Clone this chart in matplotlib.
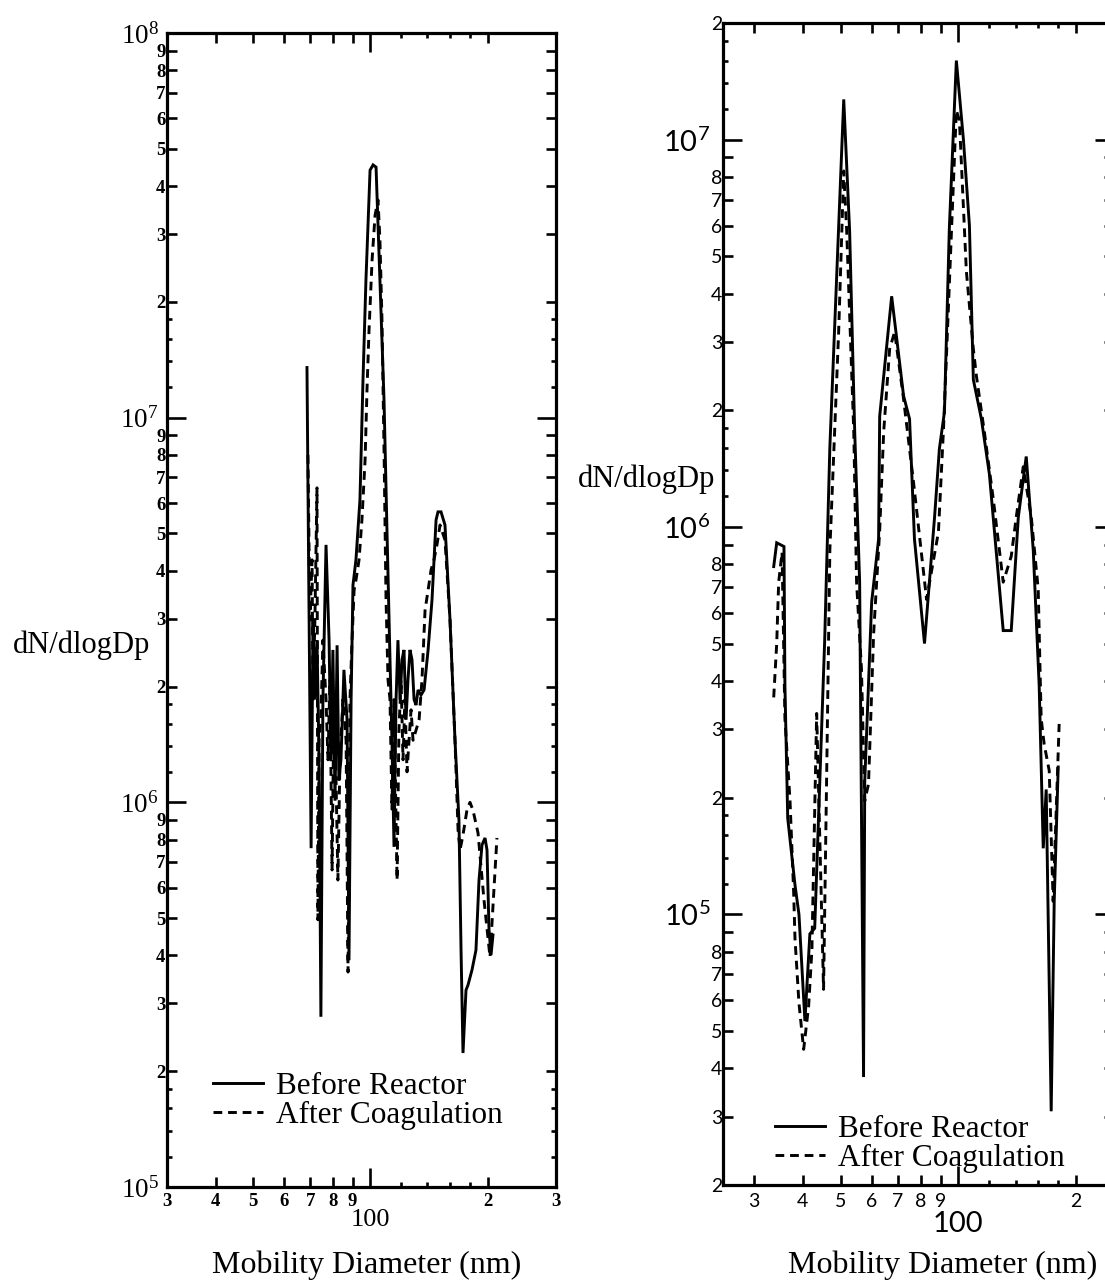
import math
import matplotlib
matplotlib.use("Agg")
import matplotlib.pyplot as plt
from matplotlib.ticker import FixedLocator, FuncFormatter
from matplotlib.lines import Line2D

# ---------------- data ----------------
# Left panel
left_before_d = [68.7, 69.5, 70.4, 71.2, 72.0, 72.9, 73.8, 74.6, 75.5, 76.9,
                 78.3, 79.2, 80.1, 81.1, 82.1, 83.0, 84.0, 85.5, 87.1, 88.1,
                 89.2, 90.2, 91.8, 94.0, 95.7, 97.4, 99.8, 101.6, 103.4, 105.8,
                 108.4, 110.3, 112.3, 113.6, 115.0, 116.4, 117.7, 119.2, 120.6, 122.0,
                 123.5, 124.9, 126.4, 127.9, 129.5, 131.0, 132.6, 134.9, 137.4, 140.7,
                 144.0, 147.5, 149.2, 151.9, 155.5, 160.2, 165.0, 168.9, 171.0, 173.0,
                 176.1, 178.2, 182.5, 186.8, 190.2, 193.6, 197.1, 199.4, 201.8, 204.2,
                 206.6]
left_before_n = [1.35e7, 3.36e6, 7.6e5, 2.98e6, 1.85e6, 2.64e6, 1.29e6, 2.77e5, 1.85e6, 4.67e6,
                 2.64e6, 1.29e6, 2.49e6, 1.01e6, 2.56e6, 1.14e6, 1.29e6, 2.21e6, 1.64e6, 3.89e5,
                 1.85e6, 3.67e6, 4.27e6, 6.11e6, 1.25e7, 2.28e7, 4.40e7, 4.54e7, 4.48e7, 2.28e7,
                 1.11e7, 5.11e6, 2.35e6, 1.45e6, 7.66e5, 1.85e6, 2.64e6, 1.85e6, 2.35e6, 2.49e6,
                 1.64e6, 2.08e6, 2.49e6, 2.35e6, 1.85e6, 1.79e6, 1.96e6, 1.90e6, 1.96e6, 2.49e6,
                 3.36e6, 5.42e6, 5.69e6, 5.69e6, 5.26e6, 2.98e6, 1.45e6, 9.0e5, 4.13e5, 2.23e5,
                 3.25e5, 3.35e5, 3.67e5, 4.13e5, 6.28e5, 7.75e5, 8.08e5, 7.52e5, 4.66e5, 4.01e5,
                 4.52e5]
left_after_d = [69.1, 69.9, 70.8, 71.2, 72.0, 72.9, 73.3, 73.8, 74.6, 75.5,
                76.9, 77.8, 78.7, 79.7, 80.6, 81.6, 82.5, 83.5, 85.0, 86.6,
                87.6, 88.6, 89.7, 90.8, 91.8, 93.5, 95.1, 96.9, 98.0, 99.2,
                101.0, 102.8, 104.6, 105.8, 107.1, 108.4, 109.7, 111.0, 112.3, 113.6,
                115.0, 117.1, 118.4, 119.9, 121.3, 122.7, 124.2, 125.7, 127.2, 128.7,
                131.0, 133.4, 135.7, 138.2, 140.7, 143.2, 145.7, 148.3, 151.0, 155.5,
                160.2, 165.0, 168.0, 170.0, 173.0, 177.1, 180.3, 183.5, 189.1, 195.9,
                203.0, 211.5]
left_after_n = [8.0e6, 2.98e6, 4.27e6, 1.85e6, 2.98e6, 6.57e6, 4.95e5, 1.45e6, 1.64e6, 2.64e6,
                1.85e6, 1.29e6, 2.08e6, 6.67e5, 1.85e6, 1.14e6, 6.28e5, 1.29e6, 1.85e6, 1.45e6,
                3.62e5, 1.85e6, 2.64e6, 3.56e6, 3.78e6, 4.27e6, 5.42e6, 7.76e6, 1.18e7, 1.69e7,
                2.57e7, 3.36e7, 3.68e7, 2.90e7, 1.79e7, 8.24e6, 3.36e6, 2.08e6, 1.85e6, 9.6e5,
                1.85e6, 6.28e5, 1.54e6, 2.08e6, 1.29e6, 1.85e6, 1.2e6, 1.45e6, 1.74e6, 1.45e6,
                1.54e6, 1.64e6, 2.08e6, 3.16e6, 3.56e6, 4.02e6, 4.27e6, 4.67e6, 5.26e6, 4.81e6,
                2.98e6, 1.45e6, 8.48e5, 7.52e5, 8.23e5, 9.55e5, 1.0e6, 9.55e5, 8.32e5, 5.57e5,
                3.96e5, 8.08e5]

# Right panel
right_before_d = [33.7, 34.3, 35.8, 36.0, 36.6, 38.2, 39.1, 40.5, 41.7, 42.9,
                  45.5, 46.9, 50.9, 52.7, 54.3, 55.9, 57.2, 57.6, 60.0, 62.5,
                  62.9, 67.5, 72.4, 75.0, 77.2, 81.9, 86.9, 89.4, 92.1, 94.8,
                  98.8, 103.0, 106.7, 109.2, 114.5, 120.0, 130.2, 136.5, 142.3, 149.1,
                  155.4, 160.9, 164.8, 167.7, 172.7, 175.8, 180.0]
right_before_n = [7.9e5, 9.1e5, 8.9e5, 3.9e5, 1.77e5, 1.19e5, 1.0e5, 5.3e4, 8.9e4, 9.2e4,
                  5.1e5, 1.6e6, 1.27e7, 5.8e6, 1.76e6, 7.2e5, 3.8e4, 2.2e5, 6.4e5, 9.3e5,
                  1.93e6, 3.94e6, 2.18e6, 1.9e6, 9.3e5, 5.0e5, 1.06e6, 1.59e6, 1.98e6, 5.9e6,
                  1.6e7, 1.0e7, 6.0e6, 2.4e6, 1.9e6, 1.37e6, 5.4e5, 5.4e5, 1.06e6, 1.52e6,
                  8.7e5, 3.9e5, 1.48e5, 2.1e5, 3.1e4, 1.08e5, 2.4e5]
right_after_d = [33.7, 34.3, 34.7, 35.4, 36.0, 37.1, 37.9, 38.2, 39.1, 40.2,
                 41.4, 42.2, 43.4, 45.2, 46.0, 46.9, 49.4, 50.9, 51.8, 54.0,
                 54.9, 56.5, 57.6, 58.9, 60.7, 62.9, 64.4, 66.7, 68.7, 72.4,
                 76.8, 82.9, 88.9, 91.6, 96.0, 98.8, 100.6, 104.8, 109.2, 111.2,
                 116.5, 122.8, 130.2, 136.5, 140.6, 146.5, 153.6, 160.0, 162.8, 165.7,
                 170.7, 174.7, 181.0]
right_after_n = [3.63e5, 5.0e5, 7.2e5, 8.6e5, 3.2e5, 1.96e5, 1.14e5, 8.65e4, 5.9e4, 4.48e4,
                 5.8e4, 8.1e4, 3.3e5, 6.4e4, 2.17e5, 8.7e5, 3.19e6, 8.3e6, 5.8e6, 1.76e6,
                 7.2e5, 4.3e5, 1.96e5, 2.17e5, 5.3e5, 9.8e5, 1.76e6, 2.88e6, 3.19e6, 2.14e6,
                 1.3e6, 6.5e5, 9.7e5, 1.79e6, 5.8e6, 1.19e7, 1.12e7, 4.57e6, 2.88e6, 2.45e6,
                 1.76e6, 1.18e6, 7.2e5, 8.4e5, 1.06e6, 1.43e6, 1.06e6, 6.9e5, 3.2e5, 2.75e5,
                 2.35e5, 1.08e5, 3.1e5]

series_labels = ["Before Reactor", "After Coagulation"]
x_title = "Mobility Diameter (nm)"
y_title = "dN/dlogDp"

left_xlim, left_ylim = (30, 300), (1e5, 1e8)
right_xlim, right_ylim = (25, 250), (2e4, 2e7)

# ---------------- figure ----------------
W, H = 1105, 1286
fig = plt.figure(figsize=(W / 100, H / 100), dpi=100)
SERIF = "Liberation Serif"
SANS = "Lato"


def px_rect(x0, y0, x1, y1):
    return [x0 / W, 1 - y1 / H, (x1 - x0) / W, (y1 - y0) / H]


axL = fig.add_axes(px_rect(167, 33, 556, 1187))
axR = fig.add_axes(px_rect(723, 23, 1114, 1185))


def mantissa(v):
    e = math.floor(math.log10(v) + 1e-9)
    return int(round(v / 10 ** e))


def exp_label(v, pos):
    return r"$\mathregular{10^{%d}}$" % int(round(math.log10(v)))


def style_axes(ax, xlim, ylim, xminor, yminor, ymajor, xtiny, ytiny, ylab_mant,
               font, weight, sz_major_y, sz_minor, sz_major_x,
               pad_major_y, pad_minor_y, pad_minor_x, pad_major_x):
    ax.set_xscale("log")
    ax.set_yscale("log")
    ax.set_xlim(*xlim)
    ax.set_ylim(*ylim)
    for sp in ax.spines.values():
        sp.set_linewidth(2.3)
    ax.xaxis.set_major_locator(FixedLocator([100]))
    ax.xaxis.set_minor_locator(FixedLocator(xminor))
    ax.yaxis.set_major_locator(FixedLocator(ymajor))
    ax.yaxis.set_minor_locator(FixedLocator(yminor))
    ax.xaxis.set_major_formatter(FuncFormatter(lambda v, p: "%d" % round(v)))
    ax.xaxis.set_minor_formatter(FuncFormatter(lambda v, p: "%d" % mantissa(v)))
    ax.yaxis.set_major_formatter(FuncFormatter(exp_label))
    ax.yaxis.set_minor_formatter(FuncFormatter(
        lambda v, p: ("%d" % mantissa(v)) if mantissa(v) in ylab_mant else ""))
    ax.tick_params(which="both", direction="in", top=True, right=True,
                   labeltop=False, labelright=False, width=1.9,
                   labelfontfamily=font)
    ax.tick_params(which="major", length=14)
    ax.tick_params(which="minor", length=7)
    ax.tick_params(axis="y", which="major", labelsize=sz_major_y, pad=pad_major_y)
    ax.tick_params(axis="y", which="minor", labelsize=sz_minor, pad=pad_minor_y)
    ax.tick_params(axis="x", which="minor", labelsize=sz_minor, pad=pad_minor_x)
    ax.tick_params(axis="x", which="major", labelsize=sz_major_x, pad=pad_major_x)
    for lab in ax.get_yticklabels(minor=True) + ax.get_xticklabels(minor=True):
        lab.set_fontweight(weight)

    ident = (lambda v: v, lambda v: v)
    for loc in ("left", "right"):
        s = ax.secondary_yaxis(loc, functions=ident)
        s.set_ticks(ytiny)
        s.tick_params(which="major", direction="in", length=3.5, width=1.9,
                      labelleft=False, labelright=False)
        s.tick_params(which="minor", length=0, labelleft=False, labelright=False)
        for sp in s.spines.values():
            sp.set_visible(False)
    for loc in ("bottom", "top"):
        s = ax.secondary_xaxis(loc, functions=ident)
        s.set_ticks(xtiny)
        s.tick_params(which="major", direction="in", length=3.5, width=1.9,
                      labelbottom=False, labeltop=False)
        s.tick_params(which="minor", length=0, labelbottom=False, labeltop=False)
        for sp in s.spines.values():
            sp.set_visible(False)


mant_all = [2, 3, 4, 5, 6, 7, 8, 9]
left_yminor = [m * 10.0 ** k for k in (5, 6, 7) for m in mant_all]
left_ytiny = [m * 10.0 ** k for k in (5, 6, 7) for m in (1.2, 1.4, 1.6, 1.8)]
right_yminor = [m * 10.0 ** k for k in (4, 5, 6) for m in mant_all] + [2e7]
right_ytiny = [m * 10.0 ** k for k in (5, 6, 7) for m in (1.2, 1.4, 1.6, 1.8)]
xtiny = [120, 140, 160, 180]

style_axes(axL, left_xlim, left_ylim,
           [30, 40, 50, 60, 70, 80, 90, 200, 300], left_yminor,
           [1e5, 1e6, 1e7, 1e8], xtiny, left_ytiny, [2, 3, 4, 5, 6, 7, 8, 9],
           SERIF, "bold", 19.5, 13.5, 19, 6, 1, 4, 16)
style_axes(axR, right_xlim, right_ylim,
           [30, 40, 50, 60, 70, 80, 90, 200], right_yminor,
           [1e5, 1e6, 1e7], xtiny, right_ytiny, [2, 3, 4, 5, 6, 7, 8],
           SANS, "normal", 21, 14, 21, 9, 0.5, 6, 19)

LW = 2.1
for ax, bd, bn, ad, an in ((axL, left_before_d, left_before_n, left_after_d, left_after_n),
                           (axR, right_before_d, right_before_n, right_after_d, right_after_n)):
    ax.plot(bd, bn, color="black", lw=LW, solid_joinstyle="miter")
    ax.plot(ad, an, color="black", lw=LW, dashes=(3, 2))

handles = [Line2D([], [], color="black", lw=LW),
           Line2D([], [], color="black", lw=LW, dashes=(3, 2))]
leg_kw = dict(frameon=False, prop={"family": SERIF, "size": 22.5},
              handlelength=1.6, handletextpad=0.4, labelspacing=0.0,
              borderpad=0.0, borderaxespad=0.0, loc="lower left")
axL.legend(handles, series_labels, bbox_to_anchor=((213 - 167) / 389, (1187 - 1130) / 1154), **leg_kw)
axR.legend(handles, series_labels, bbox_to_anchor=((775 - 723) / 391, (1185 - 1173) / 1162), **leg_kw)

fig.text(82 / W, 1 - 653 / H, y_title, ha="center", va="baseline", family=SERIF, fontsize=22)
fig.text(647 / W, 1 - 487 / H, y_title, ha="center", va="baseline", family=SERIF, fontsize=22)
fig.text(367 / W, 1 - 1265 / H, x_title, ha="center", va="center", family=SERIF, fontsize=23)
fig.text(943 / W, 1 - 1265 / H, x_title, ha="center", va="center", family=SERIF, fontsize=23)

fig.savefig("out.png", dpi=100)
